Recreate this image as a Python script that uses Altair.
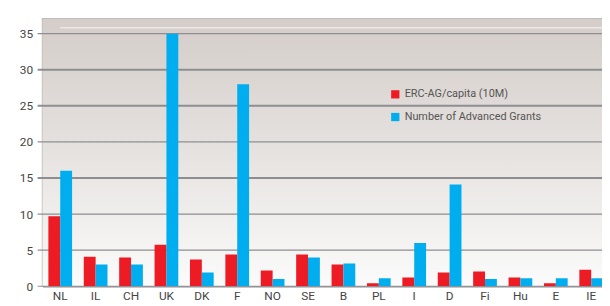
import altair as alt
import pandas as pd

countries = ["NL", "IL", "CH", "UK", "DK", "F", "NO", "SE", "B", "PL", "I", "D", "Fi", "Hu", "E", "IE"]
erc_per_capita = [9.7, 4.1, 4.0, 5.75, 3.7, 4.4, 2.2, 4.4, 3.0, 0.4, 1.2, 1.9, 2.05, 1.2, 0.4, 2.3]
advanced_grants = [16.0, 3.0, 3.0, 35.0, 1.9, 28.0, 1.0, 4.0, 3.15, 1.1, 6.0, 14.1, 1.0, 1.1, 1.1, 1.1]
series = ["ERC-AG/capita (10M)", "Number of Advanced Grants"]
colors = ["#ed1c24", "#00aeef"]
y_ticks = [0, 5, 10, 15, 20, 25, 30, 35]

rows = []
for c, a, b in zip(countries, erc_per_capita, advanced_grants):
    rows.append({"country": c, "series": series[0], "value": a})
    rows.append({"country": c, "series": series[1], "value": b})
df = pd.DataFrame(rows)
grid_df = pd.DataFrame({"v": y_ticks})

W = 567
H = 271
FONT = "Roboto"

yscale = alt.Scale(domain=[0, 37.05], nice=False, zero=True)
xscale = alt.Scale(domain=countries, range=[0, 574], paddingInner=0.33, paddingOuter=0.165)

background = alt.Chart(pd.DataFrame({"a": [0]})).mark_rect(
    color=alt.Gradient(
        gradient="linear",
        stops=[
            alt.GradientStop(color="#d4cdc9", offset=0),
            alt.GradientStop(color="#e4e0dd", offset=0.45),
            alt.GradientStop(color="#fbfbfb", offset=1),
        ],
        x1=0, x2=0, y1=0, y2=1,
    )
).encode(x=alt.value(0), x2=alt.value(W), y=alt.value(0), y2=alt.value(H))

highlight = alt.Chart(pd.DataFrame({"a": [0]})).mark_rule(color="#ebe8e5", strokeWidth=1.5).encode(
    x=alt.value(18), x2=alt.value(W), y=alt.value(9)
)

grid = alt.Chart(grid_df).mark_rule(color="#8e8e92").encode(
    y=alt.Y("v:Q", scale=yscale,
            axis=alt.Axis(title=None, values=y_ticks, grid=False, domain=True, domainColor="#c4c0bd",
                          ticks=False, labelOverlap=False, labelFont=FONT, labelFontSize=12,
                          labelColor="#444444", labelPadding=10)),
    x=alt.value(-5),
    x2=alt.value(W),
    strokeWidth=alt.condition("datum.v == 15 || datum.v == 25 || datum.v == 30", alt.value(2), alt.value(1.2)),
)

bars = alt.Chart(df).mark_bar(clip=True).encode(
    x=alt.X("country:N", sort=countries, scale=xscale,
            axis=alt.Axis(title=None, labelAngle=0, ticks=False, domain=True,
                          domainColor="#8e8e92", domainWidth=1.5,
                          labelFont=FONT, labelFontSize=12, labelColor="#444444", labelPadding=4)),
    xOffset=alt.XOffset("series:N", sort=series, scale=alt.Scale(paddingInner=0, paddingOuter=0)),
    y=alt.Y("value:Q", scale=yscale,
            axis=alt.Axis(title=None, values=y_ticks, grid=False, domain=True, domainColor="#c4c0bd",
                          ticks=False, labelOverlap=False, labelFont=FONT, labelFontSize=12,
                          labelColor="#444444", labelPadding=10)),
    color=alt.Color("series:N", sort=series, scale=alt.Scale(domain=series, range=colors),
                    legend=alt.Legend(title=None, orient="none", legendX=352, legendY=71,
                                      symbolType="square", symbolSize=70, symbolStrokeWidth=0,
                                      labelFont=FONT, labelFontSize=11, labelColor="#555555",
                                      rowPadding=11, labelLimit=300)),
)

chart = alt.layer(background, highlight, grid, bars).properties(
    width=W, height=H,
    autosize=alt.AutoSizeParams(type="none"),
    padding={"left": 35, "top": 9, "right": 0, "bottom": 18},
).configure_view(stroke="#b9b6b3", strokeWidth=1.5)

chart.save("out.html", embed_options={"renderer": "svg", "actions": False})
